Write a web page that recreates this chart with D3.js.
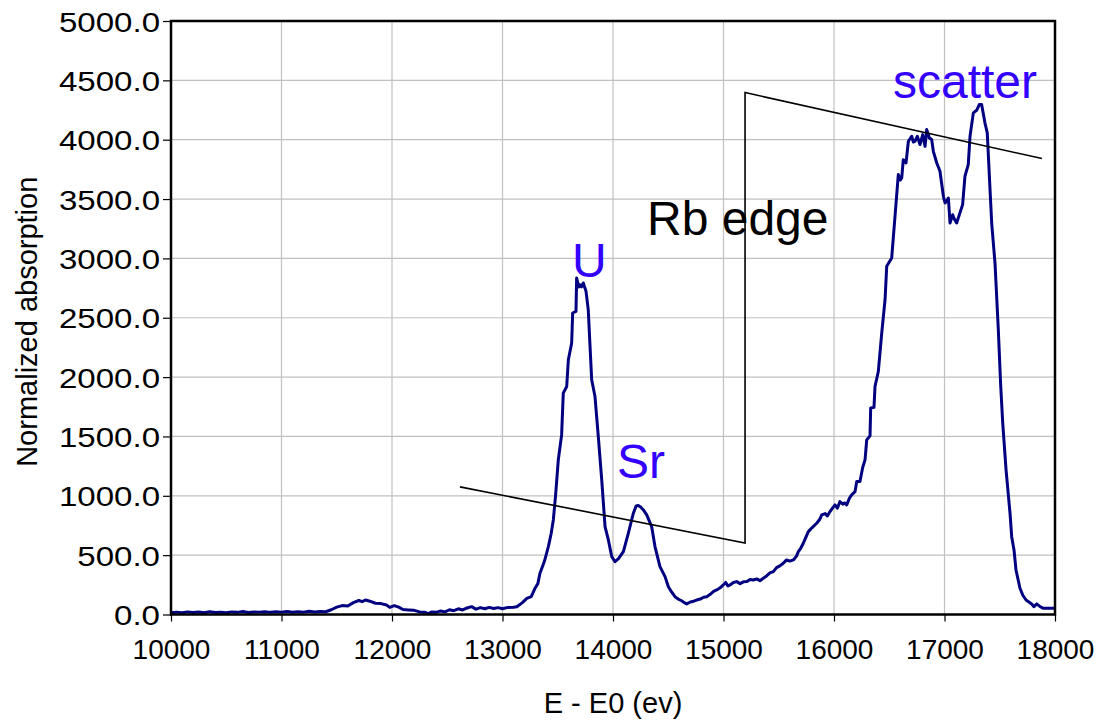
<!DOCTYPE html>
<html>
<head>
<meta charset="utf-8">
<script src="https://cdn.jsdelivr.net/npm/d3@7/dist/d3.min.js"></script>
<style>
  html, body { margin: 0; padding: 0; background: #fff; }
  svg { display: block; font-family: "Liberation Sans", Arial, sans-serif; }
</style>
</head>
<body>
<svg id="chart" width="1098" height="723"></svg>
<script>
// Fluorescence spectrum: energy offset (eV) and normalized absorption
const energy = [
  10000,10050,10100,10150,10200,10250,10300,10350,10400,10450,10500,10550,10600,10650,10700,10750,
  10800,10850,10900,10950,11000,11050,11100,11150,11200,11250,11300,11350,11400,11450,11500,11550,
  11600,11650,11700,11730,11760,11800,11850,11900,11950,11980,12020,12060,12100,12150,12200,12250,
  12300,12330,12360,12400,12440,12480,12520,12560,12600,12640,12680,12720,12760,12800,12840,12880,
  12920,12960,13000,13050,13100,13130,13180,13220,13260,13294,13320,13339,13380,13415,13440,13460,
  13480,13505,13535,13550,13581,13596,13626,13635,13665,13671,13690,13701,13715,13731,13756,13776,
  13790,13807,13837,13867,13898,13928,13958,13989,14018,14050,14094,14139,14184,14210,14229,14250,
  14275,14305,14350,14380,14425,14471,14501,14530,14561,14590,14621,14645,14667,14700,14730,14757,
  14790,14820,14848,14880,14910,14938,14970,14998,15020,15040,15059,15090,15119,15150,15180,15210,
  15240,15270,15300,15330,15360,15390,15420,15451,15480,15510,15541,15570,15600,15632,15660,15677,
  15700,15722,15745,15768,15800,15843,15870,15889,15920,15940,15964,15990,16009,16030,16054,16080,
  16100,16115,16140,16160,16190,16206,16235,16260,16281,16296,16326,16332,16362,16371,16401,16432,
  16462,16477,16522,16552,16582,16600,16613,16627,16652,16673,16703,16718,16733,16754,16778,16803,
  16824,16839,16863,16884,16899,16930,16959,16990,17005,17020,17035,17050,17074,17090,17110,17164,
  17185,17215,17231,17261,17291,17315,17336,17366,17387,17412,17427,17457,17487,17509,17527,17557,
  17593,17608,17629,17647,17683,17710,17738,17789,17810,17834,17860,17894,17950,18000
];
const absorption = [
  15,20,14,22,16,21,15,24,17,20,14,22,18,25,17,22,
  20,24,18,23,20,26,19,24,20,27,21,25,23,40,62,75,
  72,100,118,108,122,112,95,92,80,60,75,62,42,38,35,22,
  18,8,22,18,30,22,40,32,48,38,55,66,45,58,48,60,
  50,58,48,60,62,66,100,136,150,221,260,347,450,572,680,797,
  1000,1303,1513,1865,1921,2146,2287,2540,2553,2835,2760,2778,2760,2793,2722,2567,
  2300,1977,1836,1499,1134,740,628,487,445,470,529,685,853,915,918,905,
  881,839,740,572,403,319,234,190,150,130,116,100,89,105,112,122,
  130,145,150,170,195,207,225,249,270,240,249,270,277,260,275,277,
  295,291,300,285,305,325,350,361,395,410,432,460,450,460,490,530,
  560,600,650,698,730,769,800,839,850,830,867,900,923,895,951,930,
  940,923,980,1008,1035,1120,1120,1240,1303,1471,1505,1739,1745,1921,2047,2371,
  2652,2933,3003,3354,3706,3660,3678,3832,3804,3987,4029,3980,3987,4029,3959,4043,
  3944,4085,4015,4001,3902,3804,3734,3523,3467,3480,3509,3298,3368,3330,3298,3453,
  3692,3790,4029,4226,4248,4296,4296,4142,4057,3579,3298,2961,2399,1921,1612,1218,
  853,656,544,375,221,160,122,89,66,89,70,52,52,52
];

// Hand-drawn edge-step guide line (energy, absorption)
const edgeGuideE = [12615, 15195, 15195, 17882];
const edgeGuideY = [1075, 603, 4397, 3841];

// Tick values
const xTicks = [10000, 11000, 12000, 13000, 14000, 15000, 16000, 17000, 18000];
const yTicks = [0, 500, 1000, 1500, 2000, 2500, 3000, 3500, 4000, 4500, 5000];

// Peak labels: text, left edge energy, baseline absorption
const peakLabels = ["U", "Sr", "scatter", "Rb edge"];
const peakLabelE = [13630, 14036, 16534, 14308];
const peakLabelY = [2846, 1151, 4355, 3200];
const peakLabelColor = ["#3300ff", "#3300ff", "#3300ff", "#000000"];

const svg = d3.select("#chart");
const margin = { left: 171, top: 21, right: 1098 - 1055, bottom: 723 - 614.5 };
const W = 1098 - margin.left - margin.right;
const H = 723 - margin.top - margin.bottom;

const x = d3.scaleLinear().domain([10000, 18000]).range([0, W]);
const y = d3.scaleLinear().domain([0, 5000]).range([H, 0]);

const g = svg.append("g").attr("transform", `translate(${margin.left},${margin.top})`);

// Gridlines
g.append("g").selectAll("line").data(xTicks).join("line")
  .attr("x1", d => x(d)).attr("x2", d => x(d))
  .attr("y1", 0).attr("y2", H)
  .attr("stroke", "#c0c0c0").attr("stroke-width", 1.2);
g.append("g").selectAll("line").data(yTicks).join("line")
  .attr("x1", 0).attr("x2", W)
  .attr("y1", d => y(d)).attr("y2", d => y(d))
  .attr("stroke", "#c0c0c0").attr("stroke-width", 1.2);

// Axes
const xAxis = d3.axisBottom(x).tickValues(xTicks).tickFormat(d3.format("d"))
  .tickSizeInner(7).tickSizeOuter(0).tickPadding(15);
const yAxis = d3.axisLeft(y).tickValues(yTicks).tickFormat(d3.format(".1f"))
  .tickSizeInner(8).tickSizeOuter(0).tickPadding(3);

const gx = g.append("g").attr("transform", `translate(0,${H})`).call(xAxis);
const gy = g.append("g").call(yAxis);
[gx, gy].forEach(ax => {
  ax.select(".domain").remove();
  ax.selectAll(".tick line").attr("stroke", "#000").attr("stroke-width", 1.2);
  ax.selectAll(".tick text").attr("fill", "#000")
    .style("font-family", "'Liberation Sans', Arial, sans-serif")
    .style("font-size", "28px");
});
gx.selectAll(".tick text").attr("dy", "0.8em");
gy.selectAll(".tick text").attr("dy", "0.36em")
  .each(function () {
    // value labels are set slightly wide
    const len = this.getComputedTextLength();
    d3.select(this).attr("textLength", len * 1.18).attr("lengthAdjust", "spacingAndGlyphs");
  });

// Data line
const pts = energy.map((e, i) => [e, absorption[i]]);
g.append("path")
  .datum(pts)
  .attr("fill", "none")
  .attr("stroke", "#000080")
  .attr("stroke-width", 3)
  .attr("stroke-linejoin", "round")
  .attr("d", d3.line().x(d => x(d[0])).y(d => y(d[1])));

// Edge guide
g.append("path")
  .datum(edgeGuideE.map((e, i) => [e, edgeGuideY[i]]))
  .attr("fill", "none")
  .attr("stroke", "#000")
  .attr("stroke-width", 1.6)
  .attr("d", d3.line().x(d => x(d[0])).y(d => y(d[1])));

// Plot frame
g.append("rect")
  .attr("x", 0).attr("y", 0).attr("width", W).attr("height", H)
  .attr("fill", "none").attr("stroke", "#000").attr("stroke-width", 2.5);

// Peak labels
g.append("g").selectAll("text").data(peakLabels).join("text")
  .attr("x", (d, i) => x(peakLabelE[i]))
  .attr("y", (d, i) => y(peakLabelY[i]))
  .attr("text-anchor", "start")
  .attr("fill", (d, i) => peakLabelColor[i])
  .style("font-size", "48px")
  .text(d => d);

// Axis titles
svg.append("text")
  .attr("x", margin.left + W / 2).attr("y", 713)
  .attr("text-anchor", "middle")
  .style("font-size", "29px")
  .text("E - E0 (ev)");
svg.append("text")
  .attr("transform", `translate(37,${margin.top + H / 2 + 4}) rotate(-90)`)
  .attr("text-anchor", "middle")
  .style("font-size", "29px")
  .text("Normalized absorption");
</script>
</body>
</html>
